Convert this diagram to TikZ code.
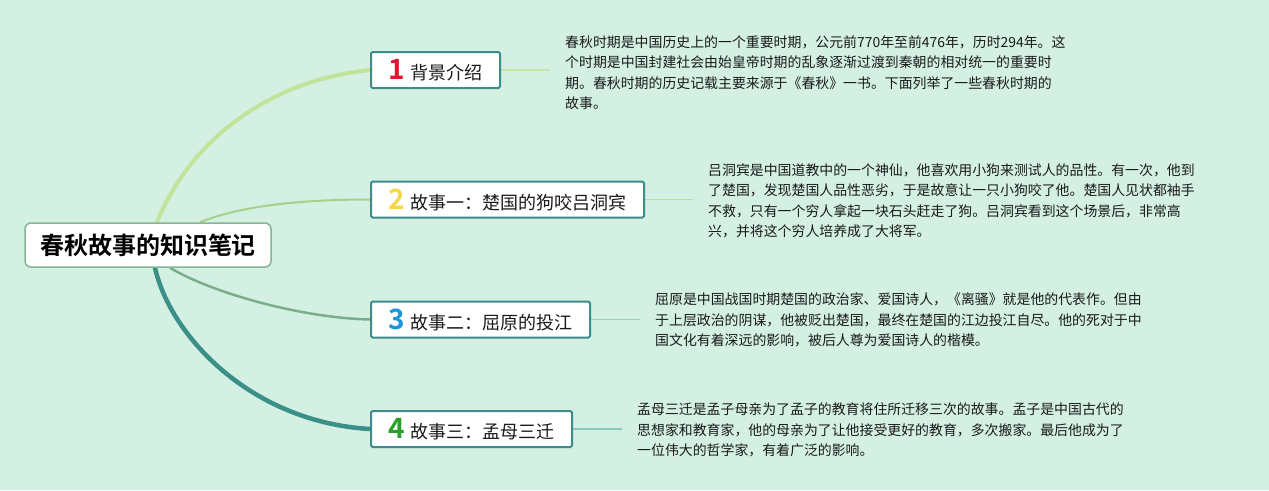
\documentclass[tikz,border=0pt]{standalone}
\usepackage{fontspec}
\setmainfont{Noto Sans CJK SC}[BoldFont={Noto Sans CJK SC Bold}]
\usetikzlibrary{calc}
\pgfdeclarelayer{bg}
\pgfsetlayers{bg,main}
\definecolor{bgc}{HTML}{D3F0E3}
\definecolor{boxb}{HTML}{3D8C8C}
\definecolor{rootb}{HTML}{86B596}
\definecolor{cA}{HTML}{C2E39A}
\definecolor{cB}{HTML}{A8D08A}
\definecolor{cC}{HTML}{7AAE8A}
\definecolor{cD}{HTML}{3A8F87}
\definecolor{sA}{HTML}{C8E6A8}
\definecolor{sB}{HTML}{BADDA5}
\definecolor{sC}{HTML}{A2CFB8}
\definecolor{sD}{HTML}{8CC7BD}
\definecolor{nA}{HTML}{E0182D}
\definecolor{nB}{HTML}{F5D84A}
\definecolor{nC}{HTML}{1E95D8}
\definecolor{nD}{HTML}{2AA02A}
\definecolor{txt}{HTML}{1A1A1A}
\tikzset{
  rootbox/.style={draw=rootb, line width=1.5pt, fill=white, rounded corners=6pt,
    minimum width=246pt, minimum height=44pt, inner sep=0pt,
    font=\fontsize{24}{26}\selectfont\bfseries, text=black},
  topicbox/.style={draw=boxb, line width=2pt, fill=white, rounded corners=1.5pt,
    minimum height=36pt, inner sep=0pt, font=\fontsize{18}{20}\selectfont, text=txt},
  desc/.style={anchor=north west, inner sep=0pt, align=left,
    font=\fontsize{13.9}{20.5}\selectfont, text=txt},
  stub/.style={line width=1.8pt},
}
\newcommand{\numlab}[2]{{\textcolor{#1}{\fontsize{28}{26}\selectfont\bfseries #2}}\hspace{5pt}}
\begin{document}
\begin{tikzpicture}[x=1pt,y=-1pt]
\useasboundingbox (0,0) rectangle (1269,490);
\begin{pgfonlayer}{bg}
\fill[bgc] (0,0) rectangle (1269,490);
\end{pgfonlayer}

\node[rootbox] (root) at (148,245) {春秋故事的知识笔记};

\node[topicbox, minimum width=129pt] (b1) at (435.5,70) {\numlab{nA}{1}背景介绍};
\node[topicbox, minimum width=273pt] (b2) at (507.5,199.5) {\numlab{nB}{2}故事一：楚国的狗咬吕洞宾};
\node[topicbox, minimum width=219pt] (b3) at (480.5,319.5) {\numlab{nC}{3}故事二：屈原的投江};
\node[topicbox, minimum width=201pt] (b4) at (471.5,429) {\numlab{nD}{4}故事三：孟母三迁};

\node[desc] (t1) at (565,35.5) {春秋时期是中国历史上的一个重要时期，公元前770年至前476年，历时294年。这\\个时期是中国封建社会由始皇帝时期的乱象逐渐过渡到秦朝的相对统一的重要时\\期。春秋时期的历史记载主要来源于《春秋》一书。下面列举了一些春秋时期的\\故事。};
\node[desc] (t2) at (708,163.5) {吕洞宾是中国道教中的一个神仙，他喜欢用小狗来测试人的品性。有一次，他到\\了楚国，发现楚国人品性恶劣，于是故意让一只小狗咬了他。楚国人见状都袖手\\不救，只有一个穷人拿起一块石头赶走了狗。吕洞宾看到这个场景后，非常高\\兴，并将这个穷人培养成了大将军。};
\node[desc] (t3) at (655,293) {屈原是中国战国时期楚国的政治家、爱国诗人，《离骚》就是他的代表作。但由\\于上层政治的阴谋，他被贬出楚国，最终在楚国的江边投江自尽。他的死对于中\\国文化有着深远的影响，被后人尊为爱国诗人的楷模。};
\node[desc] (t4) at (637,403) {孟母三迁是孟子母亲为了孟子的教育将住所迁移三次的故事。孟子是中国古代的\\思想家和教育家，他的母亲为了让他接受更好的教育，多次搬家。最后他成为了\\一位伟大的哲学家，有着广泛的影响。};

\coordinate (e1) at (550,70);
\coordinate (e2) at (693,199.5);
\coordinate (e3) at (640,319.5);
\coordinate (e4) at (622,429);

\begin{pgfonlayer}{bg}
\draw[cA, line width=4pt] ([xshift=9pt]root.north) .. controls (190,140) and (270,80) .. (b1.west);
\draw[cB, line width=2pt] ([xshift=52pt]root.north) .. controls (240,206) and (300,199.5) .. (b2.west);
\draw[cC, line width=2.5pt] ([xshift=22pt]root.south) .. controls (210,292) and (300,318) .. (b3.west);
\draw[cD, line width=4.5pt] ([xshift=7pt]root.south) .. controls (170,335) and (250,422) .. (b4.west);
\draw[sA, stub] (b1.east) -- (e1);
\draw[sB, stub] (b2.east) -- (e2);
\draw[sC, stub] (b3.east) -- (e3);
\draw[sD, stub] (b4.east) -- (e4);
\end{pgfonlayer}
\end{tikzpicture}
\end{document}
